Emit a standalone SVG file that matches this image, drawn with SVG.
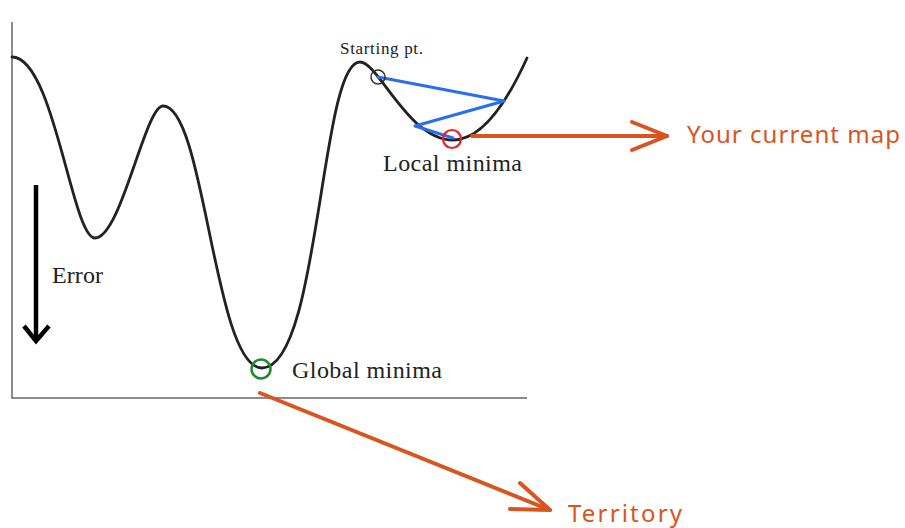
<svg xmlns="http://www.w3.org/2000/svg" width="905" height="528" viewBox="0 0 905 528">
<style>
.serif{font-family:"Liberation Serif","Times New Roman",serif;fill:#222}
.hand{font-family:"Noto Sans","DejaVu Sans",sans-serif;fill:#d9541e;font-size:24px}
.orange{stroke:#d9541e;stroke-width:4;fill:none;stroke-linecap:round;stroke-linejoin:round}
.blue{stroke:#2a6ef0;stroke-width:3;fill:none;stroke-linecap:round;stroke-linejoin:round}
.axis{stroke:#666;stroke-width:1.5;fill:none}
</style>
<rect width="905" height="528" fill="#fff"/>
<g id="axes">
<polyline class="axis" points="12,22 12,398 527,398"/>
</g>
<g id="curve">
<path d="M12,57 C54,57 72,238 95,238 C121,238 145,106 163,106 C205,106 214,368 262,368 C320,368 320,62 360,62 C378.5,62 408,140 453,140 C483,140 508,100 527,58" fill="none" stroke="#222" stroke-width="2.8" stroke-linecap="round"/>
</g>
<g id="error-arrow">
<line x1="36" y1="185" x2="36" y2="341" stroke="#000" stroke-width="4.5"/>
<polyline points="24,326 36,341 49,326" fill="none" stroke="#000" stroke-width="4.5"/>
<text class="serif" x="52" y="283" font-size="24" textLength="51">Error</text>
</g>
<g id="gradient-path">
<polyline class="blue" points="378,77 504,101 415,126 453,138"/>
</g>
<g id="starting-pt">
<circle cx="378" cy="77" r="7" fill="none" stroke="#333" stroke-width="1.5"/>
<text class="serif" x="340" y="54" font-size="17" textLength="83">Starting pt.</text>
</g>
<g id="local-minima">
<circle cx="452" cy="139" r="9" fill="none" stroke="#e8202a" stroke-width="2.2"/>
<text class="serif" x="383" y="171" font-size="24" textLength="139">Local minima</text>
</g>
<g id="global-minima">
<circle cx="261" cy="369" r="9.5" fill="none" stroke="#1e8a2e" stroke-width="2.5"/>
<text class="serif" x="292" y="378" font-size="24" textLength="150">Global minima</text>
</g>
<g id="connectors">
<line class="orange" x1="472" y1="136" x2="667" y2="136"/>
<polyline class="orange" points="632,122 667,136 632,150"/>
<line class="orange" x1="260" y1="393" x2="550" y2="510"/>
<polyline class="orange" points="520,483 550,510 510,509"/>
</g>
<g id="your-current-map">
<text class="hand" x="687" y="143" textLength="213">Your current map</text>
</g>
<g id="territory">
<text class="hand" x="568" y="522" textLength="114">Territory</text>
</g>
</svg>
